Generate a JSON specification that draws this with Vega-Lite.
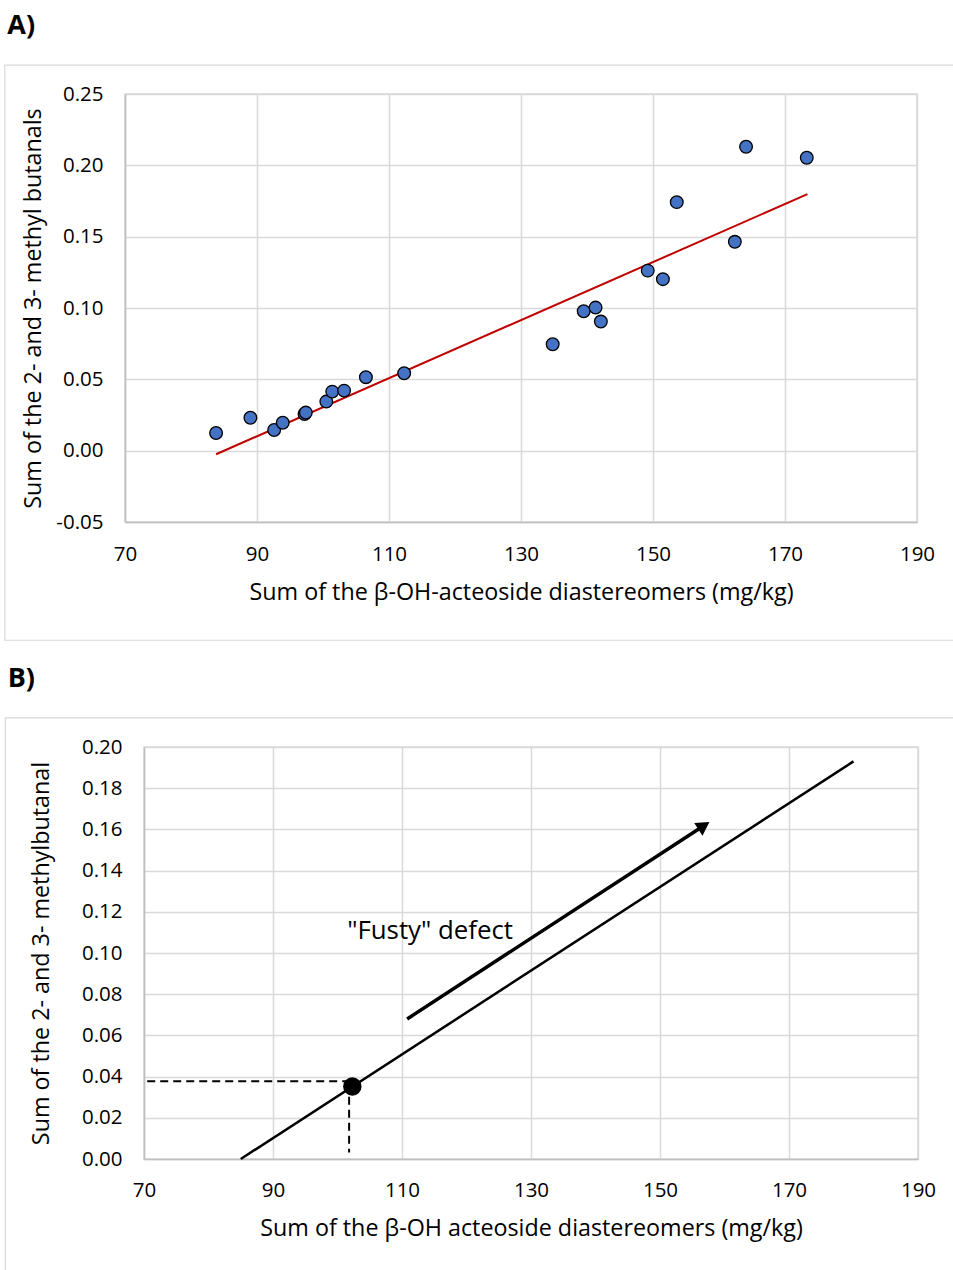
{
  "$schema": "https://vega.github.io/schema/vega-lite/v6.json",
  "background": "white",
  "padding": {"left": 2, "top": 11, "right": 0, "bottom": 0},
  "spacing": 22,
  "config": {
    "font": "Open Sans",
    "view": {"stroke": "#d9d9d9", "strokeWidth": 1.5},
    "axis": {
      "grid": true, "gridColor": "#d9d9d9", "gridWidth": 1.5,
      "domainColor": "#bfbfbf", "domainWidth": 1.5,
      "ticks": false, "tickSize": 0, "labelFlush": false,
      "labelFont": "Open Sans", "labelFontSize": 20.5, "labelColor": "#000",
      "labelExpr": "replace(datum.label, '\u2212', '-')",
      "titleFont": "Open Sans", "titleFontSize": 23.3, "titleFontWeight": "normal", "titleColor": "#000"
    },
    "title": {"anchor": "start", "frame": "bounds", "fontSize": 27, "fontWeight": "bold", "font": "Open Sans", "color": "#000", "offset": 24, "dx": 3}
  },
  "datasets": {
    "frame": [{"panel": "frame"}],
    "empty": [],
    "pointsA": [
      {"x": 83.8, "y": 0.0124}, {"x": 89.0, "y": 0.0231}, {"x": 92.6, "y": 0.0145},
      {"x": 93.9, "y": 0.0196}, {"x": 97.2, "y": 0.0257}, {"x": 97.4, "y": 0.0267},
      {"x": 100.5, "y": 0.0344}, {"x": 101.4, "y": 0.0414}, {"x": 103.2, "y": 0.0421},
      {"x": 106.5, "y": 0.0515}, {"x": 112.3, "y": 0.0543}, {"x": 134.8, "y": 0.0746},
      {"x": 139.5, "y": 0.0977}, {"x": 141.3, "y": 0.1003}, {"x": 142.1, "y": 0.0905},
      {"x": 149.2, "y": 0.1262}, {"x": 151.5, "y": 0.1202}, {"x": 153.6, "y": 0.1742},
      {"x": 162.4, "y": 0.1464}, {"x": 164.1, "y": 0.2130}, {"x": 173.3, "y": 0.2053}
    ],
    "fitA": [{"x": 83.8, "y": -0.0025}, {"x": 173.4, "y": 0.1798}],
    "lineB": [{"x": 85.0, "y": 0.0}, {"x": 180.0, "y": 0.193}],
    "dotB": [{"x": 102.3, "y": 0.0352}],
    "hdashB": [{"x": 70.5, "y": 0.0378}, {"x": 101.5, "y": 0.0378}],
    "vdashB": [{"x": 101.8, "y": 0.0302}, {"x": 101.8, "y": 0.0031}],
    "arrowB": [{"x": 110.8, "y": 0.068}, {"x": 156.6, "y": 0.1614}],
    "arrowHeadB": [{"x": 156.8, "y": 0.1618}],
    "labelB": [{"x": 101.5, "y": 0.1067, "label": "\"Fusty\" defect"}]
  },
  "vconcat": [
    {
      "spacing": 0,
      "hconcat": [
        {"width": 1, "height": 1, "data": {"name": "empty"}, "mark": "point", "view": {"stroke": null}},
        {
          "title": {"text": "A)"},
          "width": 792,
          "height": 428,
          "layer": [
            {
              "data": {"name": "frame"},
              "mark": {"type": "rect", "fillOpacity": 0, "stroke": "#d9d9d9", "strokeWidth": 1.2},
              "encoding": {
                "x": {"datum": 51.8, "type": "quantitative", "scale": {"domain": [70, 190], "nice": false, "zero": false},
                      "axis": {"title": "Sum of the β-OH-acteoside diastereomers (mg/kg)", "values": [70, 90, 110, 130, 150, 170, 190], "labelPadding": 22, "titlePadding": 17}},
                "x2": {"datum": 195.8},
                "y": {"datum": 0.2703, "type": "quantitative", "scale": {"domain": [-0.05, 0.25], "nice": false, "zero": false},
                      "axis": {"title": "Sum of the 2- and 3- methyl butanals", "values": [-0.05, 0, 0.05, 0.1, 0.15, 0.2, 0.25], "format": ".2f", "labelPadding": 22, "titlePadding": 10}},
                "y2": {"datum": -0.1329}
              }
            },
            {
              "data": {"name": "fitA"},
              "mark": {"type": "line", "color": "#C00000", "strokeWidth": 2},
              "encoding": {
                "x": {"field": "x", "type": "quantitative", "scale": {"domain": [70, 190], "nice": false, "zero": false},
                      "axis": {"title": "Sum of the β-OH-acteoside diastereomers (mg/kg)", "values": [70, 90, 110, 130, 150, 170, 190], "labelPadding": 22, "titlePadding": 17}},
                "y": {"field": "y", "type": "quantitative", "scale": {"domain": [-0.05, 0.25], "nice": false, "zero": false},
                      "axis": {"title": "Sum of the 2- and 3- methyl butanals", "values": [-0.05, 0, 0.05, 0.1, 0.15, 0.2, 0.25], "format": ".2f", "labelPadding": 22, "titlePadding": 10}}
              }
            },
            {
              "data": {"name": "pointsA"},
              "mark": {"type": "point", "shape": "circle", "filled": true, "fill": "#4472C4", "stroke": "#000000", "strokeWidth": 1.3, "size": 160, "opacity": 1},
              "encoding": {
                "x": {"field": "x", "type": "quantitative", "scale": {"domain": [70, 190], "nice": false, "zero": false},
                      "axis": {"title": "Sum of the β-OH-acteoside diastereomers (mg/kg)", "values": [70, 90, 110, 130, 150, 170, 190], "labelPadding": 22, "titlePadding": 17}},
                "y": {"field": "y", "type": "quantitative", "scale": {"domain": [-0.05, 0.25], "nice": false, "zero": false},
                      "axis": {"title": "Sum of the 2- and 3- methyl butanals", "values": [-0.05, 0, 0.05, 0.1, 0.15, 0.2, 0.25], "format": ".2f", "labelPadding": 22, "titlePadding": 10}}
              }
            }
          ]
        }
      ]
    },
    {
      "spacing": 0,
      "hconcat": [
        {"width": 1, "height": 1, "data": {"name": "empty"}, "mark": "point", "view": {"stroke": null}},
        {
          "title": {"text": "B)"},
          "width": 774,
          "height": 412,
          "layer": [
            {
              "data": {"name": "frame"},
              "mark": {"type": "rect", "fillOpacity": 0, "stroke": "#d9d9d9", "strokeWidth": 1.2},
              "encoding": {
                "x": {"datum": 48.5, "type": "quantitative", "scale": {"domain": [70, 190], "nice": false, "zero": false},
                      "axis": {"title": "Sum of the β-OH acteoside diastereomers (mg/kg)", "values": [70, 90, 110, 130, 150, 170, 190], "labelPadding": 21, "titlePadding": 17}},
                "x2": {"datum": 195.8},
                "y": {"datum": 0.2141, "type": "quantitative", "scale": {"domain": [0, 0.2], "nice": false, "zero": false},
                      "axis": {"title": "Sum of the 2- and 3- methylbutanal", "values": [0, 0.02, 0.04, 0.06, 0.08, 0.1, 0.12, 0.14, 0.16, 0.18, 0.2], "format": ".2f", "labelPadding": 22, "titlePadding": 28}},
                "y2": {"datum": -0.0548}
              }
            },
            {
              "data": {"name": "lineB"},
              "mark": {"type": "line", "color": "#000000", "strokeWidth": 2.5},
              "encoding": {
                "x": {"field": "x", "type": "quantitative", "scale": {"domain": [70, 190], "nice": false, "zero": false},
                      "axis": {"title": "Sum of the β-OH acteoside diastereomers (mg/kg)", "values": [70, 90, 110, 130, 150, 170, 190], "labelPadding": 21, "titlePadding": 17}},
                "y": {"field": "y", "type": "quantitative", "scale": {"domain": [0, 0.2], "nice": false, "zero": false},
                      "axis": {"title": "Sum of the 2- and 3- methylbutanal", "values": [0, 0.02, 0.04, 0.06, 0.08, 0.1, 0.12, 0.14, 0.16, 0.18, 0.2], "format": ".2f", "labelPadding": 22, "titlePadding": 28}}
              }
            },
            {
              "data": {"name": "hdashB"},
              "mark": {"type": "line", "color": "#000000", "strokeWidth": 2, "strokeDash": [8, 5]},
              "encoding": {
                "x": {"field": "x", "type": "quantitative", "scale": {"domain": [70, 190], "nice": false, "zero": false},
                      "axis": {"title": "Sum of the β-OH acteoside diastereomers (mg/kg)", "values": [70, 90, 110, 130, 150, 170, 190], "labelPadding": 21, "titlePadding": 17}},
                "y": {"field": "y", "type": "quantitative", "scale": {"domain": [0, 0.2], "nice": false, "zero": false},
                      "axis": {"title": "Sum of the 2- and 3- methylbutanal", "values": [0, 0.02, 0.04, 0.06, 0.08, 0.1, 0.12, 0.14, 0.16, 0.18, 0.2], "format": ".2f", "labelPadding": 22, "titlePadding": 28}}
              }
            },
            {
              "data": {"name": "vdashB"},
              "mark": {"type": "line", "color": "#000000", "strokeWidth": 2, "strokeDash": [8, 5]},
              "encoding": {
                "x": {"field": "x", "type": "quantitative", "scale": {"domain": [70, 190], "nice": false, "zero": false},
                      "axis": {"title": "Sum of the β-OH acteoside diastereomers (mg/kg)", "values": [70, 90, 110, 130, 150, 170, 190], "labelPadding": 21, "titlePadding": 17}},
                "y": {"field": "y", "type": "quantitative", "scale": {"domain": [0, 0.2], "nice": false, "zero": false},
                      "axis": {"title": "Sum of the 2- and 3- methylbutanal", "values": [0, 0.02, 0.04, 0.06, 0.08, 0.1, 0.12, 0.14, 0.16, 0.18, 0.2], "format": ".2f", "labelPadding": 22, "titlePadding": 28}}
              }
            },
            {
              "data": {"name": "arrowB"},
              "mark": {"type": "line", "color": "#000000", "strokeWidth": 3.5},
              "encoding": {
                "x": {"field": "x", "type": "quantitative", "scale": {"domain": [70, 190], "nice": false, "zero": false},
                      "axis": {"title": "Sum of the β-OH acteoside diastereomers (mg/kg)", "values": [70, 90, 110, 130, 150, 170, 190], "labelPadding": 21, "titlePadding": 17}},
                "y": {"field": "y", "type": "quantitative", "scale": {"domain": [0, 0.2], "nice": false, "zero": false},
                      "axis": {"title": "Sum of the 2- and 3- methylbutanal", "values": [0, 0.02, 0.04, 0.06, 0.08, 0.1, 0.12, 0.14, 0.16, 0.18, 0.2], "format": ".2f", "labelPadding": 22, "titlePadding": 28}}
              }
            },
            {
              "data": {"name": "arrowHeadB"},
              "mark": {"type": "point", "shape": "triangle-up", "filled": true, "fill": "#000000", "stroke": "#000000", "strokeWidth": 0, "size": 230, "angle": 57, "opacity": 1},
              "encoding": {
                "x": {"field": "x", "type": "quantitative", "scale": {"domain": [70, 190], "nice": false, "zero": false},
                      "axis": {"title": "Sum of the β-OH acteoside diastereomers (mg/kg)", "values": [70, 90, 110, 130, 150, 170, 190], "labelPadding": 21, "titlePadding": 17}},
                "y": {"field": "y", "type": "quantitative", "scale": {"domain": [0, 0.2], "nice": false, "zero": false},
                      "axis": {"title": "Sum of the 2- and 3- methylbutanal", "values": [0, 0.02, 0.04, 0.06, 0.08, 0.1, 0.12, 0.14, 0.16, 0.18, 0.2], "format": ".2f", "labelPadding": 22, "titlePadding": 28}}
              }
            },
            {
              "data": {"name": "dotB"},
              "mark": {"type": "point", "shape": "circle", "filled": true, "fill": "#000000", "stroke": "#000000", "strokeWidth": 0, "size": 340, "opacity": 1},
              "encoding": {
                "x": {"field": "x", "type": "quantitative", "scale": {"domain": [70, 190], "nice": false, "zero": false},
                      "axis": {"title": "Sum of the β-OH acteoside diastereomers (mg/kg)", "values": [70, 90, 110, 130, 150, 170, 190], "labelPadding": 21, "titlePadding": 17}},
                "y": {"field": "y", "type": "quantitative", "scale": {"domain": [0, 0.2], "nice": false, "zero": false},
                      "axis": {"title": "Sum of the 2- and 3- methylbutanal", "values": [0, 0.02, 0.04, 0.06, 0.08, 0.1, 0.12, 0.14, 0.16, 0.18, 0.2], "format": ".2f", "labelPadding": 22, "titlePadding": 28}}
              }
            },
            {
              "data": {"name": "labelB"},
              "mark": {"type": "text", "align": "left", "baseline": "alphabetic", "fontSize": 25.8, "font": "Open Sans", "color": "#000000"},
              "encoding": {
                "text": {"field": "label", "type": "nominal"},
                "x": {"field": "x", "type": "quantitative", "scale": {"domain": [70, 190], "nice": false, "zero": false},
                      "axis": {"title": "Sum of the β-OH acteoside diastereomers (mg/kg)", "values": [70, 90, 110, 130, 150, 170, 190], "labelPadding": 21, "titlePadding": 17}},
                "y": {"field": "y", "type": "quantitative", "scale": {"domain": [0, 0.2], "nice": false, "zero": false},
                      "axis": {"title": "Sum of the 2- and 3- methylbutanal", "values": [0, 0.02, 0.04, 0.06, 0.08, 0.1, 0.12, 0.14, 0.16, 0.18, 0.2], "format": ".2f", "labelPadding": 22, "titlePadding": 28}}
              }
            }
          ]
        }
      ]
    }
  ]
}
